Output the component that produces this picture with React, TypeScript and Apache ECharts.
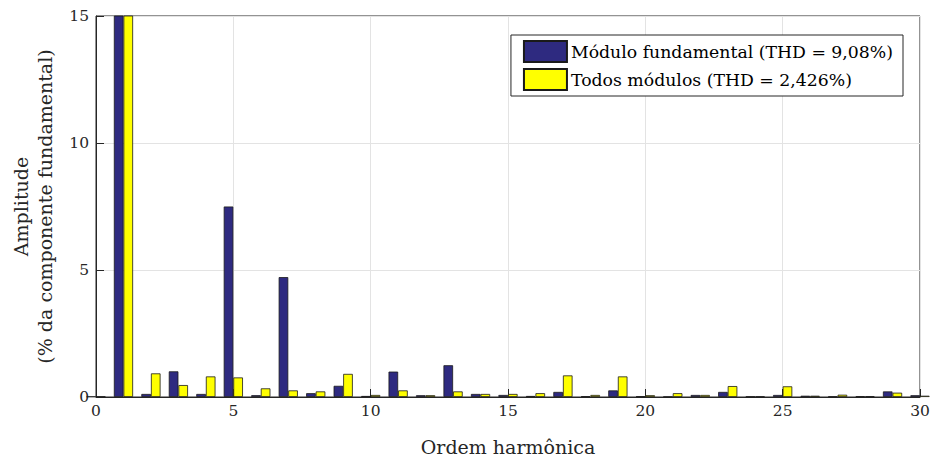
import React, { useEffect, useRef } from "react";
import * as echarts from "echarts";

// Harmonic orders 0..30
const harmonics: number[] = Array.from({ length: 31 }, (_, i) => i);

// Amplitudes in % of the fundamental component
const fundamentalModule: number[] = [
  0.02, 100, 0.12, 1.01, 0.12, 7.5, 0.07, 4.72, 0.15, 0.44,
  0.04, 1.0, 0.07, 1.25, 0.12, 0.08, 0.04, 0.2, 0.03, 0.26,
  0.03, 0.01, 0.08, 0.2, 0.02, 0.08, 0.05, 0.02, 0.03, 0.22,
  0.07,
];
const allModules: number[] = [
  0.02, 100, 0.93, 0.47, 0.81, 0.77, 0.34, 0.26, 0.22, 0.91,
  0.08, 0.26, 0.07, 0.22, 0.12, 0.12, 0.15, 0.85, 0.08, 0.81,
  0.07, 0.15, 0.08, 0.43, 0.02, 0.42, 0.05, 0.09, 0.03, 0.17,
  0.05,
];

const seriesNames = [
  "Módulo fundamental (THD = 9,08%)",
  "Todos módulos (THD = 2,426%)",
];
const yTicks = [0, 5, 10, 15];
const xTicks = [0, 5, 10, 15, 20, 25, 30];

const FONT = "DejaVu Serif";

export default function App() {
  const ref = useRef<HTMLDivElement>(null);

  useEffect(() => {
    if (!ref.current) return;
    const chart = echarts.init(ref.current, undefined, { renderer: "svg" });
    const axisColor = "#262626";
    const gridColor = "#e3e3e3";

    chart.setOption({
      animation: false,
      backgroundColor: "#ffffff",
      textStyle: { fontFamily: FONT },
      grid: {
        left: 96,
        right: 12,
        top: 16,
        bottom: 64,
        containLabel: false,
        outerBoundsMode: "none",
        show: true,
        borderColor: axisColor,
        borderWidth: 1,
        backgroundColor: "transparent",
      },
      legend: {
        data: seriesNames,
        orient: "vertical",
        right: 29,
        top: 35,
        itemWidth: 43,
        itemHeight: 21,
        itemGap: 5,
        padding: [5, 10, 5, 12],
        backgroundColor: "#ffffff",
        borderColor: axisColor,
        borderWidth: 1,
        borderRadius: 0,
        icon: "rect",
        textStyle: { fontFamily: FONT, fontSize: 17.3, color: "#000", padding: [0, 0, 0, -1] },
      },
      xAxis: {
        type: "value",
        min: 0,
        max: 30,
        interval: 5,
        name: "Ordem harmônica",
        nameLocation: "middle",
        nameGap: 40,
        nameTextStyle: { fontFamily: FONT, fontSize: 19, color: "#262626" },
        axisLine: { show: true, onZero: false, lineStyle: { color: axisColor } },
        axisTick: { show: true, inside: true, length: 8, lineStyle: { color: axisColor } },
        axisLabel: {
          fontFamily: FONT,
          fontSize: 15.5,
          color: "#262626",
          margin: 6,
          formatter: (v: number) => (xTicks.includes(v) ? String(v) : ""),
        },
        splitLine: { show: true, lineStyle: { color: gridColor } },
      },
      yAxis: {
        type: "value",
        min: 0,
        max: 15,
        interval: 5,
        name: "Amplitude\n(% da componente fundamental)",
        nameLocation: "middle",
        nameGap: 39,
        nameRotate: 90,
        nameTextStyle: { fontFamily: FONT, fontSize: 19, color: "#262626", lineHeight: 24 },
        axisLine: { show: true, lineStyle: { color: axisColor } },
        axisTick: { show: true, inside: true, length: 8, lineStyle: { color: axisColor } },
        axisLabel: {
          fontFamily: FONT,
          fontSize: 15.5,
          color: "#262626",
          margin: 7,
          formatter: (v: number) => (yTicks.includes(v) ? String(v) : ""),
        },
        splitLine: { show: true, lineStyle: { color: gridColor } },
      },
      series: [
        {
          name: seriesNames[0],
          type: "bar",
          data: harmonics.map((h, i) => [h, fundamentalModule[i]]),
          barWidth: 9.6,
          barGap: "0%",
          clip: true,
          itemStyle: { color: "#2e2a80", borderColor: "#1a1a1a", borderWidth: 0.8 },
        },
        {
          name: seriesNames[1],
          type: "bar",
          data: harmonics.map((h, i) => [h, allModules[i]]),
          barWidth: 9.6,
          barGap: "0%",
          clip: true,
          itemStyle: { color: "#ffff00", borderColor: "#1a1a1a", borderWidth: 0.8 },
        },
      ],
    });

    return () => chart.dispose();
  }, []);

  return <div ref={ref} style={{ width: 932, height: 461, position: "absolute", left: 0, top: 0 }} />;
}
